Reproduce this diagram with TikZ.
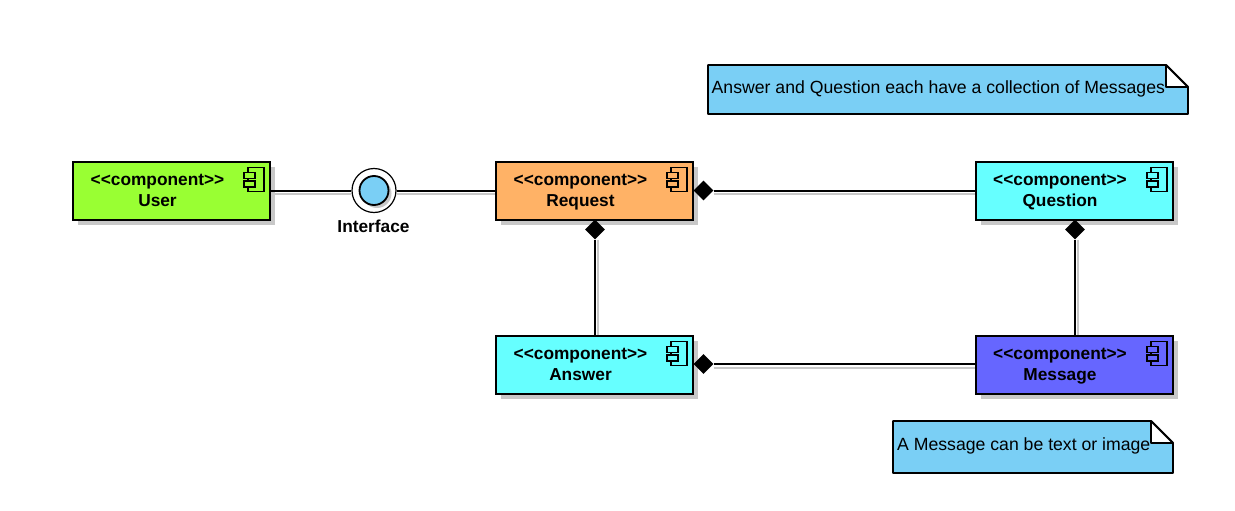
\documentclass[tikz,border=0pt]{standalone}
\usepackage{fontspec}
\setmainfont{Liberation Sans}
\usetikzlibrary{positioning}
\usetikzlibrary{calc}
\usetikzlibrary{shapes.geometric}
\usetikzlibrary{shadows}

\definecolor{usergreen}{HTML}{99FF33}
\definecolor{reqorange}{HTML}{FFB266}
\definecolor{qacyan}{HTML}{66FFFF}
\definecolor{msgblue}{HTML}{6666FF}
\definecolor{noteblue}{HTML}{7ACFF5}
\definecolor{shade}{HTML}{C8C8C8}

\newcommand{\stereo}{<{}<component>{}>}

\tikzset{
  compbox/.style={draw=black,line width=2pt,minimum width=197pt,minimum height=58pt,
    drop shadow={shadow xshift=5pt,shadow yshift=-5pt,fill=shade,opacity=1}},
  comptext/.style={align=center,anchor=north,inner sep=0pt,font=\fontsize{17.3}{20.5}\bfseries\selectfont},
  notetext/.style={anchor=west,inner sep=0pt,font=\fontsize{17.65}{20}\selectfont},
  notebody/.style={draw=black,line width=1.8pt,fill=noteblue,line join=bevel},
  notefold/.style={draw=black,line width=1.8pt,fill=white,line join=bevel},
  wire/.style={draw=black,line width=1.7pt},
  wireshade/.style={draw=shade,line width=1.7pt},
  compdia/.style={diamond,fill=black,inner sep=0pt,minimum width=20pt,minimum height=20pt},
  pics/compicon/.style={code={
    \draw[black,line width=1.3pt] (-16,0) rectangle (0,24);
    \draw[black,line width=1.3pt,fill=#1] (-20,5) rectangle (-9,11);
    \draw[black,line width=1.3pt,fill=#1] (-20,13.5) rectangle (-9,19.5);
  }}
}

\begin{document}
\begin{tikzpicture}[x=1pt,y=-1pt]
\useasboundingbox (0,0) rectangle (1235,511);

% components
\node[compbox,fill=usergreen] (user) at (171.5,191) {};
\node[compbox,fill=reqorange] (request) at (594.5,191) {};
\node[compbox,fill=qacyan] (question) at (1074.5,191) {};
\node[compbox,fill=qacyan] (answer) at (594.5,365) {};
\node[compbox,fill=msgblue] (message) at (1074.5,365) {};

\node[comptext] (usertext) at (157.5,174.5) {\stereo\\User};
\node[comptext] (requesttext) at (580.5,174.5) {\stereo\\Request};
\node[comptext] (questiontext) at (1060,174.5) {\stereo\\Question};
\node[comptext] (answertext) at (580.5,348.5) {\stereo\\Answer};
\node[comptext] (messagetext) at (1060,348.5) {\stereo\\Message};

\pic at ([shift={(-7,6.5)}]user.north east) {compicon=usergreen};
\pic at ([shift={(-7,6.5)}]request.north east) {compicon=reqorange};
\pic at ([shift={(-7,6.5)}]question.north east) {compicon=qacyan};
\pic at ([shift={(-7,6.5)}]answer.north east) {compicon=qacyan};
\pic at ([shift={(-7,6.5)}]message.north east) {compicon=msgblue};

% interface
\node[circle,draw=black,line width=1.2pt,fill=white,minimum size=44pt,inner sep=0pt] (iface) at (374,190.5) {};
\node[circle,draw=black,line width=1.8pt,fill=noteblue,minimum size=29pt,inner sep=0pt,
  drop shadow={shadow xshift=3pt,shadow yshift=-3pt,fill=shade,opacity=1}] (ifacein) at (374,190.5) {};
\node[comptext] (ifacetext) at (373.5,220) {Interface};

% composition diamonds
\node[compdia] (requestdia) at (703.5,190.5) {};
\node[compdia] (answerdia) at (703.5,364) {};
\node[compdia] (downdia) at (595,229.5) {};
\node[compdia] (questiondia) at (1075,229.5) {};

% connectors, shadow first
\draw[wireshade] ([yshift=-3pt]user.east) -- ([yshift=-3pt]user.east -| iface.west);
\draw[wireshade] ([yshift=-3pt]request.west -| iface.east) -- ([yshift=-3pt]request.west);
\draw[wireshade] ([yshift=-3pt]question.west -| requestdia.east) -- ([yshift=-3pt]question.west);
\draw[wireshade] ([yshift=-4pt]answerdia.east) -- ([yshift=-4pt]answerdia.east -| message.west);
\draw[wireshade] ([xshift=3pt]downdia.south) -- ([xshift=3pt]downdia.south |- answer.north);
\draw[wireshade] ([xshift=3pt]questiondia.south) -- ([xshift=3pt]questiondia.south |- message.north);

\draw[wire] (user.east) -- (user.east -| iface.west);
\draw[wire] (request.west -| iface.east) -- (request.west);
\draw[wire] (question.west -| requestdia.east) -- (question.west);
\draw[wire] (answerdia.east) -- (answerdia.east -| message.west);
\draw[wire] (downdia.south) -- (downdia.south |- answer.north);
\draw[wire] (questiondia.south) -- (questiondia.south |- message.north);

% notes
\draw[notebody] (708,65) -- (1166,65) -- (1188,87) -- (1188,114) -- (708,114) -- cycle;
\draw[notefold] (1166,65) -- (1188,87) -- (1166,87) -- cycle;
\node[notetext] (topnote) at (711.5,88.5) {Answer and Question each have a collection of Messages};

\draw[notebody] (893,421) -- (1151,421) -- (1173,443) -- (1173,473) -- (893,473) -- cycle;
\draw[notefold] (1151,421) -- (1173,443) -- (1151,443) -- cycle;
\node[notetext] (lownote) at (897,445.5) {A Message can be text or image};
\end{tikzpicture}
\end{document}
